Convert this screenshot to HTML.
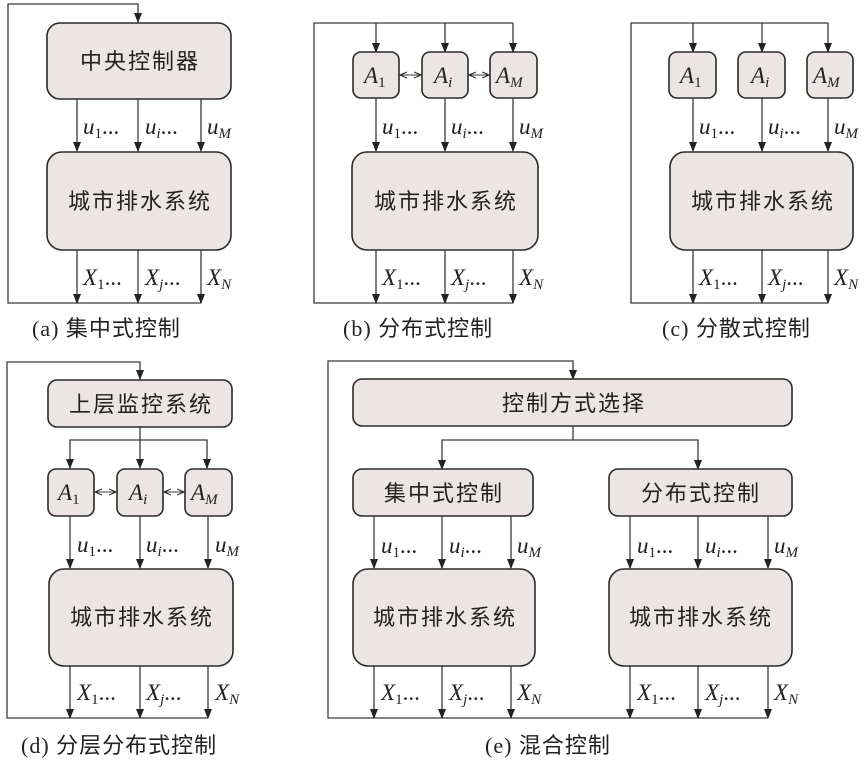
<!DOCTYPE html>
<html><head><meta charset="utf-8"><style>
html,body{margin:0;padding:0;background:#fff;}
svg{display:block;}
.b{fill:#ebe5e3;stroke:#2a2a2a;stroke-width:1.6;}
.l{stroke:#3a3a3a;stroke-width:1.3;fill:none;}
.c{font-family:"Liberation Sans","Noto Sans CJK SC",sans-serif;font-size:22px;fill:#222;text-anchor:middle;letter-spacing:2px;}
.cap{font-family:"Liberation Serif","Noto Sans CJK SC",serif;font-size:22px;fill:#222;letter-spacing:1px;}
.m{font-family:"Liberation Serif",serif;font-size:23px;fill:#222;font-style:italic;}
.s{font-size:15px;font-style:normal;}
.si{font-size:15px;}
</style></head><body>
<svg width="867" height="762" viewBox="0 0 867 762" xmlns="http://www.w3.org/2000/svg">
<defs>
<marker id="a" markerWidth="10" markerHeight="10" refX="9" refY="5" orient="auto" markerUnits="userSpaceOnUse"><path d="M0,1 L10,5 L0,9 z" fill="#222"/></marker>
<marker id="sa" markerWidth="8" markerHeight="8" refX="7" refY="4" orient="auto" markerUnits="userSpaceOnUse"><path d="M0,1 L7,4 L0,7" fill="none" stroke="#222" stroke-width="1"/></marker>
<marker id="ss" markerWidth="8" markerHeight="8" refX="7" refY="4" orient="auto-start-reverse" markerUnits="userSpaceOnUse"><path d="M0,1 L7,4 L0,7" fill="none" stroke="#222" stroke-width="1"/></marker>
</defs>

<!-- (a) -->
<polyline class="l" points="201,303 8,303 8,4 138,4 138,22" marker-end="url(#a)"/>
<rect class="b" x="47" y="23" width="184" height="76" rx="13"/>
<text class="c" x="140" y="69">中央控制器</text>
<line class="l" x1="77" y1="99" x2="77" y2="151" marker-end="url(#a)"/>
<line class="l" x1="138" y1="99" x2="138" y2="151" marker-end="url(#a)"/>
<line class="l" x1="201" y1="99" x2="201" y2="151" marker-end="url(#a)"/>
<text class="m" x="83" y="134">u<tspan class="s" dy="4">1</tspan><tspan dy="-4" style="font-style:normal">...</tspan></text>
<text class="m" x="145" y="134">u<tspan class="si" dy="4">i</tspan><tspan dy="-4" style="font-style:normal">...</tspan></text>
<text class="m" x="207" y="134">u<tspan class="si" dy="4">M</tspan></text>
<rect class="b" x="47" y="152" width="184" height="98" rx="15"/>
<text class="c" x="140" y="209">城市排水系统</text>
<line class="l" x1="77" y1="250" x2="77" y2="303" marker-end="url(#a)"/>
<line class="l" x1="138" y1="250" x2="138" y2="303" marker-end="url(#a)"/>
<line class="l" x1="201" y1="250" x2="201" y2="303" marker-end="url(#a)"/>
<text class="m" x="83" y="285">X<tspan class="s" dy="4">1</tspan><tspan dy="-4" style="font-style:normal">...</tspan></text>
<text class="m" x="145" y="285">X<tspan class="si" dy="4">j</tspan><tspan dy="-4" style="font-style:normal">...</tspan></text>
<text class="m" x="207" y="285">X<tspan class="si" dy="4">N</tspan></text>
<text class="cap" x="32" y="336">(a) 集中式控制</text>

<!-- (b) -->
<polyline class="l" points="513,303 314,303 314,23 513,23"/>
<line class="l" x1="376" y1="23" x2="376" y2="52" marker-end="url(#a)"/>
<line class="l" x1="445" y1="23" x2="445" y2="52" marker-end="url(#a)"/>
<line class="l" x1="513" y1="23" x2="513" y2="52" marker-end="url(#a)"/>
<rect class="b" x="353" y="52" width="46" height="46" rx="8"/>
<rect class="b" x="422" y="52" width="46" height="46" rx="8"/>
<rect class="b" x="490" y="52" width="47" height="46" rx="8"/>
<text class="m" x="364" y="83">A<tspan class="s" dy="4">1</tspan></text>
<text class="m" x="434" y="83">A<tspan class="si" dy="4">i</tspan></text>
<text class="m" x="496" y="83">A<tspan class="si" dy="4">M</tspan></text>
<line class="l" x1="400" y1="75" x2="421" y2="75" marker-start="url(#ss)" marker-end="url(#sa)" style="stroke-width:1"/>
<line class="l" x1="469" y1="75" x2="489" y2="75" marker-start="url(#ss)" marker-end="url(#sa)" style="stroke-width:1"/>
<line class="l" x1="376" y1="98" x2="376" y2="151" marker-end="url(#a)"/>
<line class="l" x1="445" y1="98" x2="445" y2="151" marker-end="url(#a)"/>
<line class="l" x1="513" y1="98" x2="513" y2="151" marker-end="url(#a)"/>
<text class="m" x="382" y="134">u<tspan class="s" dy="4">1</tspan><tspan dy="-4" style="font-style:normal">...</tspan></text>
<text class="m" x="451" y="134">u<tspan class="si" dy="4">i</tspan><tspan dy="-4" style="font-style:normal">...</tspan></text>
<text class="m" x="519" y="134">u<tspan class="si" dy="4">M</tspan></text>
<rect class="b" x="352" y="152" width="186" height="98" rx="15"/>
<text class="c" x="446" y="209">城市排水系统</text>
<line class="l" x1="376" y1="250" x2="376" y2="303" marker-end="url(#a)"/>
<line class="l" x1="445" y1="250" x2="445" y2="303" marker-end="url(#a)"/>
<line class="l" x1="513" y1="250" x2="513" y2="303" marker-end="url(#a)"/>
<text class="m" x="382" y="285">X<tspan class="s" dy="4">1</tspan><tspan dy="-4" style="font-style:normal">...</tspan></text>
<text class="m" x="451" y="285">X<tspan class="si" dy="4">j</tspan><tspan dy="-4" style="font-style:normal">...</tspan></text>
<text class="m" x="519" y="285">X<tspan class="si" dy="4">N</tspan></text>
<text class="cap" x="343" y="336">(b) 分布式控制</text>

<!-- (c) -->
<polyline class="l" points="828,303 631,303 631,23 828,23"/>
<line class="l" x1="693" y1="23" x2="693" y2="52" marker-end="url(#a)"/>
<line class="l" x1="762" y1="23" x2="762" y2="52" marker-end="url(#a)"/>
<line class="l" x1="828" y1="23" x2="828" y2="52" marker-end="url(#a)"/>
<rect class="b" x="669" y="52" width="47" height="46" rx="8"/>
<rect class="b" x="738" y="52" width="47" height="46" rx="8"/>
<rect class="b" x="807" y="52" width="46" height="46" rx="8"/>
<text class="m" x="680" y="83">A<tspan class="s" dy="4">1</tspan></text>
<text class="m" x="751" y="83">A<tspan class="si" dy="4">i</tspan></text>
<text class="m" x="813" y="83">A<tspan class="si" dy="4">M</tspan></text>
<line class="l" x1="693" y1="98" x2="693" y2="151" marker-end="url(#a)"/>
<line class="l" x1="762" y1="98" x2="762" y2="151" marker-end="url(#a)"/>
<line class="l" x1="828" y1="98" x2="828" y2="151" marker-end="url(#a)"/>
<text class="m" x="699" y="134">u<tspan class="s" dy="4">1</tspan><tspan dy="-4" style="font-style:normal">...</tspan></text>
<text class="m" x="768" y="134">u<tspan class="si" dy="4">i</tspan><tspan dy="-4" style="font-style:normal">...</tspan></text>
<text class="m" x="834" y="134">u<tspan class="si" dy="4">M</tspan></text>
<rect class="b" x="670" y="152" width="183" height="98" rx="15"/>
<text class="c" x="763" y="209">城市排水系统</text>
<line class="l" x1="693" y1="250" x2="693" y2="303" marker-end="url(#a)"/>
<line class="l" x1="762" y1="250" x2="762" y2="303" marker-end="url(#a)"/>
<line class="l" x1="828" y1="250" x2="828" y2="303" marker-end="url(#a)"/>
<text class="m" x="699" y="285">X<tspan class="s" dy="4">1</tspan><tspan dy="-4" style="font-style:normal">...</tspan></text>
<text class="m" x="768" y="285">X<tspan class="si" dy="4">j</tspan><tspan dy="-4" style="font-style:normal">...</tspan></text>
<text class="m" x="834" y="285">X<tspan class="si" dy="4">N</tspan></text>
<text class="cap" x="662" y="336">(c) 分散式控制</text>

<!-- (d) -->
<polyline class="l" points="208,718 7,718 7,362 140,362 140,379" marker-end="url(#a)"/>
<rect class="b" x="48" y="380" width="184" height="47" rx="9"/>
<text class="c" x="141" y="412">上层监控系统</text>
<line class="l" x1="140" y1="427" x2="140" y2="468" marker-end="url(#a)"/>
<polyline class="l" points="70,468 70,440 207,440 207,468"/>
<line class="l" x1="70" y1="460" x2="70" y2="468" marker-end="url(#a)"/>
<line class="l" x1="207" y1="460" x2="207" y2="468" marker-end="url(#a)"/>
<rect class="b" x="48" y="469" width="46" height="47" rx="8"/>
<rect class="b" x="117" y="469" width="46" height="47" rx="8"/>
<rect class="b" x="185" y="469" width="47" height="47" rx="8"/>
<text class="m" x="58" y="500">A<tspan class="s" dy="4">1</tspan></text>
<text class="m" x="129" y="500">A<tspan class="si" dy="4">i</tspan></text>
<text class="m" x="191" y="500">A<tspan class="si" dy="4">M</tspan></text>
<line class="l" x1="95" y1="492" x2="116" y2="492" marker-start="url(#ss)" marker-end="url(#sa)" style="stroke-width:1"/>
<line class="l" x1="164" y1="492" x2="184" y2="492" marker-start="url(#ss)" marker-end="url(#sa)" style="stroke-width:1"/>
<line class="l" x1="70" y1="516" x2="70" y2="568" marker-end="url(#a)"/>
<line class="l" x1="140" y1="516" x2="140" y2="568" marker-end="url(#a)"/>
<line class="l" x1="208" y1="516" x2="208" y2="568" marker-end="url(#a)"/>
<text class="m" x="77" y="552">u<tspan class="s" dy="4">1</tspan><tspan dy="-4" style="font-style:normal">...</tspan></text>
<text class="m" x="146" y="552">u<tspan class="si" dy="4">i</tspan><tspan dy="-4" style="font-style:normal">...</tspan></text>
<text class="m" x="215" y="552">u<tspan class="si" dy="4">M</tspan></text>
<rect class="b" x="49" y="569" width="184" height="97" rx="15"/>
<text class="c" x="142" y="625">城市排水系统</text>
<line class="l" x1="70" y1="666" x2="70" y2="718" marker-end="url(#a)"/>
<line class="l" x1="140" y1="666" x2="140" y2="718" marker-end="url(#a)"/>
<line class="l" x1="208" y1="666" x2="208" y2="718" marker-end="url(#a)"/>
<text class="m" x="77" y="700">X<tspan class="s" dy="4">1</tspan><tspan dy="-4" style="font-style:normal">...</tspan></text>
<text class="m" x="146" y="700">X<tspan class="si" dy="4">j</tspan><tspan dy="-4" style="font-style:normal">...</tspan></text>
<text class="m" x="215" y="700">X<tspan class="si" dy="4">N</tspan></text>
<text class="cap" x="21" y="753">(d) 分层分布式控制</text>

<!-- (e) -->
<polyline class="l" points="768,718 328,718 328,361 573,361 573,379" marker-end="url(#a)"/>
<rect class="b" x="353" y="379" width="439" height="47" rx="9"/>
<text class="c" x="574" y="411">控制方式选择</text>
<line class="l" x1="573" y1="426" x2="573" y2="440"/>
<polyline class="l" points="442,469 442,440 698,440 698,469"/>
<line class="l" x1="442" y1="460" x2="442" y2="469" marker-end="url(#a)"/>
<line class="l" x1="698" y1="460" x2="698" y2="469" marker-end="url(#a)"/>
<rect class="b" x="353" y="469" width="180" height="47" rx="9"/>
<text class="c" x="444" y="501">集中式控制</text>
<rect class="b" x="609" y="469" width="183" height="47" rx="9"/>
<text class="c" x="701" y="501">分布式控制</text>
<line class="l" x1="374" y1="516" x2="374" y2="568" marker-end="url(#a)"/>
<line class="l" x1="442" y1="516" x2="442" y2="568" marker-end="url(#a)"/>
<line class="l" x1="511" y1="516" x2="511" y2="568" marker-end="url(#a)"/>
<line class="l" x1="630" y1="516" x2="630" y2="568" marker-end="url(#a)"/>
<line class="l" x1="698" y1="516" x2="698" y2="568" marker-end="url(#a)"/>
<line class="l" x1="768" y1="516" x2="768" y2="568" marker-end="url(#a)"/>
<text class="m" x="381" y="553">u<tspan class="s" dy="4">1</tspan><tspan dy="-4" style="font-style:normal">...</tspan></text>
<text class="m" x="449" y="553">u<tspan class="si" dy="4">i</tspan><tspan dy="-4" style="font-style:normal">...</tspan></text>
<text class="m" x="517" y="553">u<tspan class="si" dy="4">M</tspan></text>
<text class="m" x="637" y="553">u<tspan class="s" dy="4">1</tspan><tspan dy="-4" style="font-style:normal">...</tspan></text>
<text class="m" x="705" y="553">u<tspan class="si" dy="4">i</tspan><tspan dy="-4" style="font-style:normal">...</tspan></text>
<text class="m" x="774" y="553">u<tspan class="si" dy="4">M</tspan></text>
<rect class="b" x="353" y="569" width="182" height="97" rx="15"/>
<text class="c" x="445" y="625">城市排水系统</text>
<rect class="b" x="609" y="569" width="183" height="97" rx="15"/>
<text class="c" x="701" y="625">城市排水系统</text>
<line class="l" x1="374" y1="666" x2="374" y2="718" marker-end="url(#a)"/>
<line class="l" x1="442" y1="666" x2="442" y2="718" marker-end="url(#a)"/>
<line class="l" x1="511" y1="666" x2="511" y2="718" marker-end="url(#a)"/>
<line class="l" x1="630" y1="666" x2="630" y2="718" marker-end="url(#a)"/>
<line class="l" x1="698" y1="666" x2="698" y2="718" marker-end="url(#a)"/>
<line class="l" x1="768" y1="666" x2="768" y2="718" marker-end="url(#a)"/>
<text class="m" x="381" y="700">X<tspan class="s" dy="4">1</tspan><tspan dy="-4" style="font-style:normal">...</tspan></text>
<text class="m" x="449" y="700">X<tspan class="si" dy="4">j</tspan><tspan dy="-4" style="font-style:normal">...</tspan></text>
<text class="m" x="517" y="700">X<tspan class="si" dy="4">N</tspan></text>
<text class="m" x="637" y="700">X<tspan class="s" dy="4">1</tspan><tspan dy="-4" style="font-style:normal">...</tspan></text>
<text class="m" x="705" y="700">X<tspan class="si" dy="4">j</tspan><tspan dy="-4" style="font-style:normal">...</tspan></text>
<text class="m" x="774" y="700">X<tspan class="si" dy="4">N</tspan></text>
<text class="cap" x="485" y="753">(e) 混合控制</text>
</svg>
</body></html>
